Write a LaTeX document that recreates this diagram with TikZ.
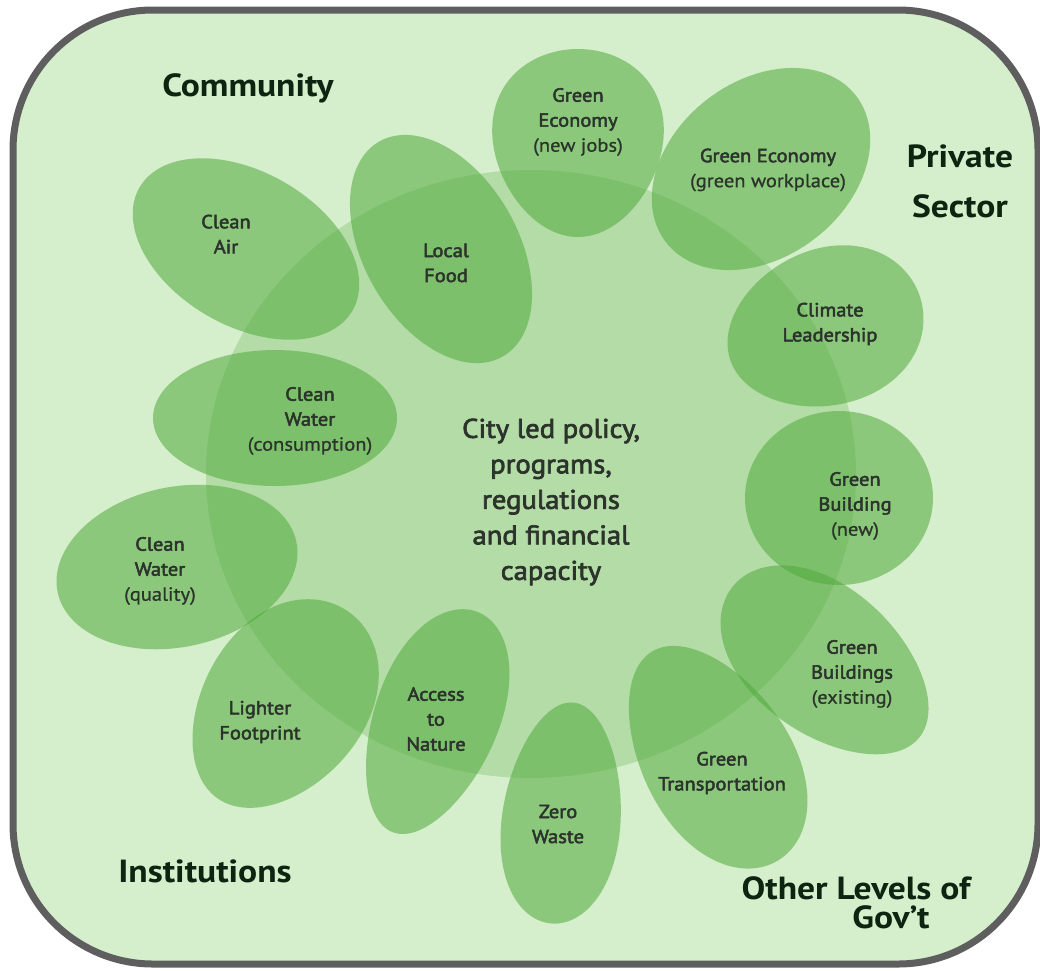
\documentclass[tikz,border=0pt]{standalone}
\usepackage{fontspec}
\setmainfont{PT Sans}
\font\lblF="PT Sans:embolden=2.6;extend=1.08" at 19pt
\font\subF="PT Sans:embolden=0.8;extend=1.08" at 19pt
\font\cenF="PT Sans:embolden=2.6;extend=1.06" at 27pt
\font\headF="PT Sans/B:extend=1.11" at 32pt
\newcommand\lblfont{\lblF\baselineskip=25pt\relax}
\newcommand\cenfont{\cenF\baselineskip=35.5pt\relax}
\newcommand\headfont{\headF\baselineskip=50pt\relax}
\newcommand\govfont{\headF\baselineskip=29pt\relax}
\definecolor{bggreen}{HTML}{D5EECB}
\definecolor{petalgreen}{HTML}{50AA3C}
\definecolor{framegray}{HTML}{5E5E5E}
\definecolor{lblgray}{HTML}{2B332B}
\definecolor{headgreen}{HTML}{0D2410}
\tikzset{
  petal/.style={fill=petalgreen, fill opacity=0.55},
  hub/.style={fill=petalgreen, fill opacity=0.25},
  lbl/.style={text=lblgray, align=center, inner sep=0pt, font=\lblfont},
  centertext/.style={text=lblgray, align=center, inner sep=0pt, font=\cenfont},
  region/.style={text=headgreen, align=center, inner sep=0pt, font=\headfont},
  frame/.style={draw=framegray, line width=7pt, fill=bggreen, rounded corners=140pt}
}
\newcommand\sub[1]{{\subF #1}}
% \blob(cx,cy,a,b,angle,k)
\def\blob(#1,#2,#3,#4,#5,#6){%
  \begin{scope}[shift={(#1,#2)}, rotate=#5]
    \fill[petal] plot[domain=0:360, samples=121] ({#3*cos(\x)},{#4*sin(\x)*(1+#6*cos(\x))}) -- cycle;
  \end{scope}}
\begin{document}
\begin{tikzpicture}[x=1pt, y=-1pt]
\useasboundingbox (0,0) rectangle (1040,970);
\fill[white] (0,0) rectangle (1040,970);
\draw[frame] (13,10) rectangle (1038,964);

% central hub
\fill[hub] (531,474) ellipse [x radius=325, y radius=304];

% petals
\blob(578,143,94,85,90,0.14)   % green economy new jobs
\blob(761,169,120,88,37.5,0)   % green workplace
\blob(825,328,100,78,18.6,0.08)% climate leadership
\blob(839,498,94,87,0,0)       % green building new
\blob(826,662,120,73,141,0.08) % green buildings existing
\blob(715,756,122,74,-59,0.1)  % green transportation
\blob(562,813,111,59,-96,0.12) % zero waste
\blob(435,722,118,62,69,0.1)   % access to nature
\blob(283,705,114,81,55,0.08)  % lighter footprint
\blob(177,567,122,80,12,0)     % clean water quality
\blob(275,418,122,68,0,0)      % clean water consumption
\blob(246,249,123,77,-30,0)    % clean air
\blob(441,249,124,77,-60,0)    % local food

% petal labels
\node[lbl] (geJobs) at (578,122) {Green\\Economy\\\sub{(new jobs)}};
\node[lbl] (geWork) at (768,170) {Green Economy\\\sub{(green workplace)}};
\node[lbl] (climate) at (830,324) {Climate\\Leadership};
\node[lbl] (gbNew) at (855,506) {Green\\Building\\\sub{(new)}};
\node[lbl] (gbOld) at (852,674) {Green\\Buildings\\\sub{(existing)}};
\node[lbl] (transport) at (722,773) {Green\\Transportation};
\node[lbl] (waste) at (558,824) {Zero\\Waste};
\node[lbl] (nature) at (436,719) {Access\\to\\Nature};
\node[lbl] (footprint) at (260,722) {Lighter\\Footprint};
\node[lbl] (cwQuality) at (160,571) {Clean\\Water\\\sub{(quality)}};
\node[lbl] (cwConsume) at (310,421) {Clean\\Water\\\sub{(consumption)}};
\node[lbl] (air) at (226,234) {Clean\\Air};
\node[lbl] (food) at (446,263) {Local\\Food};

% centre
\node[centertext] (city) at (551,502) {City led policy,\\programs,\\regulations\\and financial\\capacity};

% sector headings
\node[region] (community) at (248,88) {Community};
\node[region] (private) at (960,181) {Private\\Sector};
\node[region] (institutions) at (205,871) {Institutions};
\node[region, font=\govfont] (gov) at (856,903) {Other Levels of\\\hspace*{70pt}Gov’t};
\end{tikzpicture}
\end{document}
